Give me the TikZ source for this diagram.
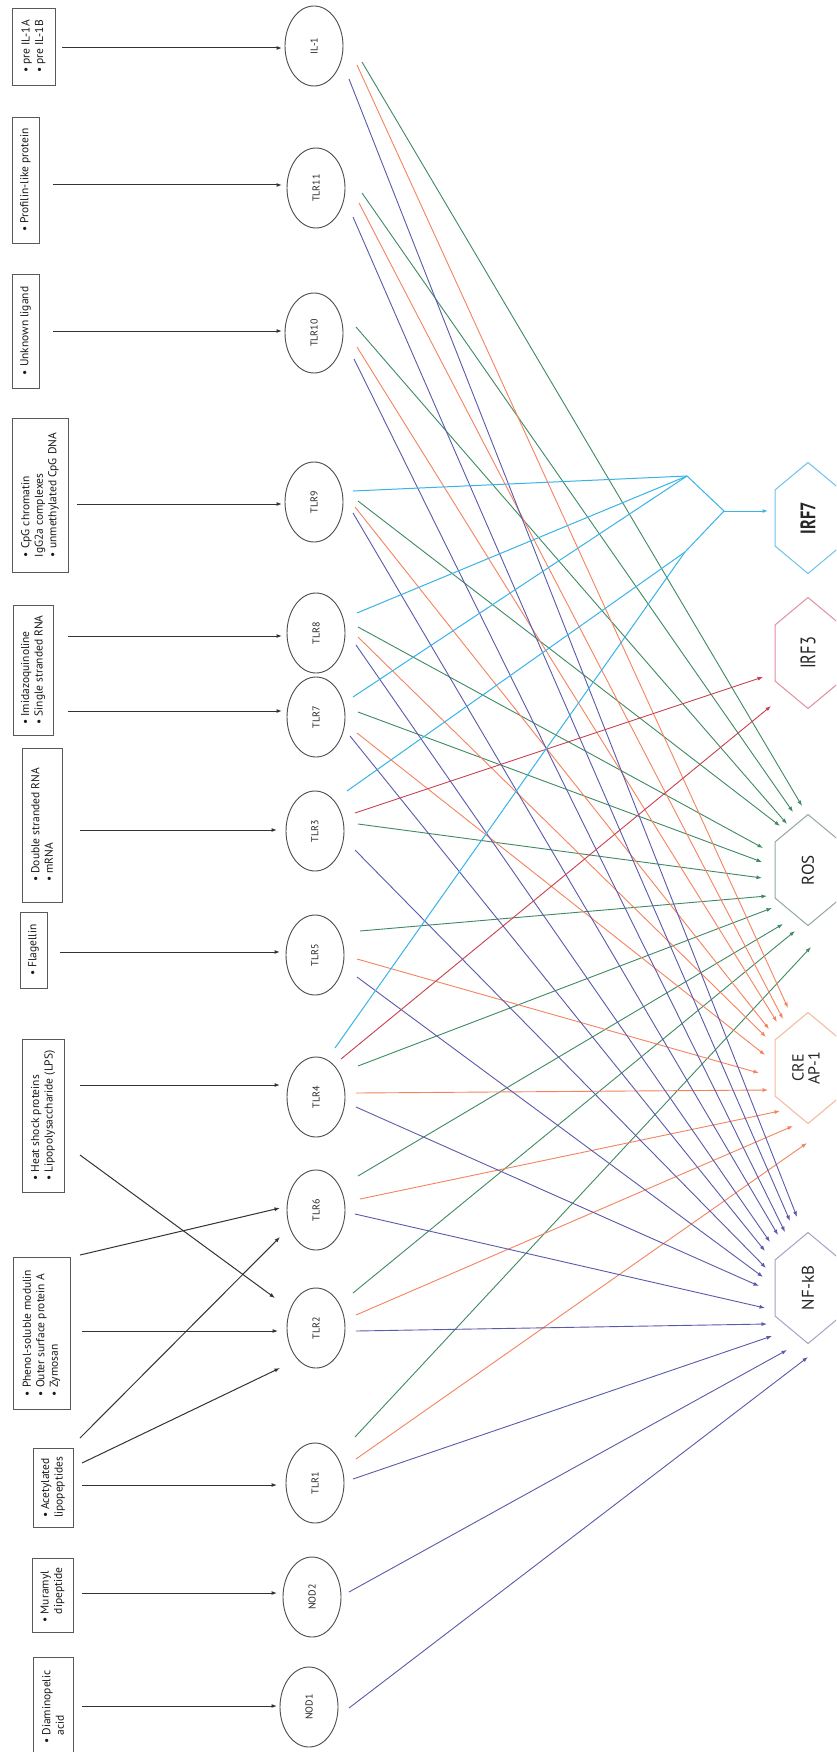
\documentclass[tikz,border=0pt]{standalone}
\usepackage{fontspec}
\setmainfont{PT Sans}
\newfontfamily\condfont[FakeStretch=0.78]{PT Sans}
\usetikzlibrary{shapes.geometric,arrows.meta}
\definecolor{cpur}{HTML}{5A5AAA}
\definecolor{corg}{HTML}{F4845F}
\definecolor{cgrn}{HTML}{3E8A62}
\definecolor{cred}{HTML}{C8404F}
\definecolor{ccyn}{HTML}{38B4E6}
\definecolor{hcyn}{HTML}{6CC4EC}
\definecolor{hred}{HTML}{E0909E}
\definecolor{hgrn}{HTML}{93AA9C}
\definecolor{horg}{HTML}{F4BA9E}
\definecolor{hpur}{HTML}{A4A4C4}
\begin{document}
\begin{tikzpicture}[x=1pt,y=-1pt,
  lig/.style={draw=black!65, line width=0.9pt, rotate=90, align=left, inner sep=0pt, text=black!90, font=\fontsize{11.5}{13.5}\selectfont},
  rec/.style={draw=black!70, ellipse, line width=0.9pt, rotate=90, minimum width=80pt, minimum height=58pt, inner sep=0pt, text=black!85, font=\fontsize{10}{11}\selectfont},
  hexlab/.style={rotate=90, align=center, inner sep=0pt, text=black!85, font=\fontsize{17}{17}\selectfont},
  tip/.style={-{Latex[length=5.5pt,width=4pt]}},
  inarr/.style={draw=black!80, line width=1pt, tip},
  pl/.style={draw=cpur, line width=0.9pt, tip},
  ol/.style={draw=corg, line width=0.9pt, tip},
  gl/.style={draw=cgrn, line width=0.9pt, tip},
  rl/.style={draw=cred, line width=0.9pt, tip},
  cl/.style={draw=ccyn, line width=1pt},
  hexline/.style={line width=1pt}
]
\useasboundingbox (0,0) rectangle (836,1752);
\clip (0,0) rectangle (836,1752);
\fill[white] (0,0) rectangle (836,1752);

% ligand boxes
\node[lig, minimum width=77pt, minimum height=43pt] (b1) at (33.5,46.5) {• pre IL-1A\\• pre IL-1B};
\node[lig, minimum width=126pt, minimum height=27pt] (b2) at (25.5,180) {• Profilin-like protein};
\node[lig, minimum width=114pt, minimum height=27pt] (b3) at (25.5,331) {• Unknown ligand};
\node[lig, minimum width=154pt, minimum height=56pt] (b4) at (40,495) {• CpG chromatin\\IgG2a complexes\\• unmethylated CpG DNA};
\node[lig, minimum width=130pt, minimum height=40pt] (b5) at (33,670) {• Imidazoquinoline\\• Single stranded RNA};
\node[lig, minimum width=154pt, minimum height=40pt] (b6) at (42,825) {• Double stranded RNA\\• mRNA};
\node[lig, minimum width=76pt, minimum height=27pt] (b7) at (33.5,950) {• Flagellin};
\node[lig, minimum width=153pt, minimum height=42pt] (b8) at (43,1115.5) {• Heat shock proteins\\• Lipopolysaccharide (LPS)};
\node[lig, minimum width=152pt, minimum height=57pt] (b9) at (41.5,1333) {• Phenol-soluble modulin\\• Outer surface protein A\\• Zymosan};
\node[lig, minimum width=79pt, minimum height=40pt] (b10) at (53,1487.5) {• Acetylated\\lipopeptides};
\node[lig, minimum width=74pt, minimum height=41pt] (b11) at (52.5,1595) {• Muramyl\\\phantom{• }dipeptide};
\node[lig, minimum width=100pt, minimum height=40pt] (b12) at (53,1707) {• Diaminopelic\\\phantom{• }acid};

% receptors
\node[rec] (il1) at (314,46) {IL-1};
\node[rec] (tlr11) at (316,188) {TLR11};
\node[rec] (tlr10) at (314,333) {TLR10};
\node[rec] (tlr9) at (314,502) {TLR9};
\node[rec] (tlr8) at (316,633) {TLR8};
\node[rec] (tlr7) at (316,717) {TLR7};
\node[rec] (tlr3) at (315,831) {TLR3};
\node[rec] (tlr5) at (315,955) {TLR5};
\node[rec] (tlr4) at (316,1097) {TLR4};
\node[rec] (tlr6) at (316,1210) {TLR6};
\node[rec] (tlr2) at (316,1328) {TLR2};
\node[rec] (tlr1) at (315,1483) {TLR1};
\node[rec] (nod2) at (312,1597) {NOD2};
\node[rec] (nod1) at (309,1707) {NOD1};

% targets
\node[hexlab, font=\condfont\bfseries\fontsize{21}{21}\selectfont] (irf7) at (808,518) {IRF7};
\node[hexlab, font=\condfont\fontsize{21}{21}\selectfont] (irf3) at (808,653) {IRF3};
\node[hexlab] (ros) at (808,870) {ROS};
\node[hexlab, font=\fontsize{16}{16}\selectfont] (cre) at (806,1068) {CRE\\AP-1};
\node[hexlab] (nfkb) at (808,1288) {NF-kB};
\foreach \n/\c in {irf7/hcyn, irf3/hred, ros/hgrn, nfkb/hpur}
  \draw[hexline, draw=\c, shift={(\n.center)}] (0,-55.5) -- (33,-28) -- (33,28) -- (0,55.5) -- (-33,28) -- (-33,-28) -- cycle;
\draw[hexline, draw=horg] (808,1012.5) -- (841,1040) -- (841,1096) -- (808,1123.5) -- (775,1096) -- (775,1040) -- cycle;

% input arrow end points
\foreach \n/\x/\y in {
  i1s/62/48, i1e/282/48, i2s/53/185, i2e/282/185, i3s/53/331, i3e/282/331,
  i4s/77/504, i4e/282/504, i5s/68/636, i5e/282/636, i6s/68/711, i6e/282/711,
  i7s/80/830, i7e/277/830, i8s/60/952, i8e/280/952, i9s/80/1085, i9e/280/1085,
  i10s/80/1155, i10e/275/1298, i11s/80/1255, i11e/280/1208, i12s/82/1331, i12e/278/1331,
  i13s/80/1438, i13e/280/1237, i14s/82/1463, i14e/280/1368, i15s/82/1485, i15e/277/1485,
  i16s/82/1593, i16e/277/1593, i17s/82/1706, i17e/277/1706}
  \coordinate (\n) at (\x,\y);
\foreach \k in {1,...,17} \draw[inarr] (i\k s) -- (i\k e);

% green (ROS)
\foreach \n/\x/\y in {
  g1/362/62, g2/362/193, g3/356/327, g4/358/501, g5/358/627, g6/358/712,
  g7/358/824, g8/360/931, g9/358/1066, g10/358/1176, g11/353/1293, g12/355/1437,
  ros1/802/806, ros2/793/812, ros3/787/824, ros4/780/826, ros5/763/848, ros6/762/862,
  ros7/762/878, ros8/767/896, ros9/772/908, ros10/783/924, ros11/795/931, ros12/811/947}
  \coordinate (\n) at (\x,\y);
\foreach \k in {1,...,12} \draw[gl] (g\k) -- (ros\k);

% orange (CRE/AP-1)
\foreach \n/\x/\y in {
  o1/357/65, o2/359/203, o3/357/347, o4/355/507, o5/358/637, o6/357/733,
  o7/357/959, o8/356/1093, o9/360/1199, o10/356/1315, o11/356/1459,
  cre1/788/1008, cre2/783/1019, cre3/777/1022, cre4/769/1029, cre5/766/1037, cre6/765/1055,
  cre7/759/1073, cre8/768/1090, cre9/780/1111, cre10/793/1126, cre11/807/1143}
  \coordinate (\n) at (\x,\y);
\foreach \k in {1,...,11} \draw[ol] (o\k) -- (cre\k);

% purple (NF-kB)
\foreach \n/\x/\y in {
  p1/349/79, p2/353/217, p3/354/359, p4/353/513, p5/356/645, p6/350/736,
  p7/355/850, p8/357/977, p9/356/1107, p10/355/1214, p11/356/1331, p12/353/1479,
  p13/349/1592, p14/349/1708,
  nf1/797/1217, nf2/790/1221, nf3/785/1232, nf4/778/1235, nf5/770/1242, nf6/765/1251,
  nf7/766/1268, nf8/763/1277, nf9/759/1286, nf10/765/1308, nf11/767/1324, nf12/772/1336,
  nf13/787/1350, nf14/808/1357}
  \coordinate (\n) at (\x,\y);
\foreach \k in {1,...,14} \draw[pl] (p\k) -- (nf\k);

% red (IRF3)
\coordinate (r1) at (355,813);
\coordinate (r2) at (341,1059);
\coordinate (irf3a) at (763,677);
\coordinate (irf3b) at (771,706);
\draw[rl] (r1) -- (irf3a);
\draw[rl] (r2) -- (irf3b);

% cyan (IRF7)
\coordinate (c1) at (353,491);
\coordinate (c2) at (357,613);
\coordinate (c3) at (353,697);
\coordinate (c4) at (347,791);
\coordinate (c5) at (335,1048);
\coordinate (ja) at (687,476);
\coordinate (jc) at (685,552);
\coordinate (jb) at (724,511);
\coordinate (irf7in) at (768,511);
\draw[cl] (c1) -- (ja);
\draw[cl] (c2) -- (ja);
\draw[cl] (c3) -- (ja);
\draw[cl] (c4) -- (jc);
\draw[cl] (c5) -- (jc);
\draw[cl, line join=miter] (ja) -- (jb) -- (jc);
\draw[cl, tip] (jb) -- (irf7in);
\end{tikzpicture}
\end{document}
